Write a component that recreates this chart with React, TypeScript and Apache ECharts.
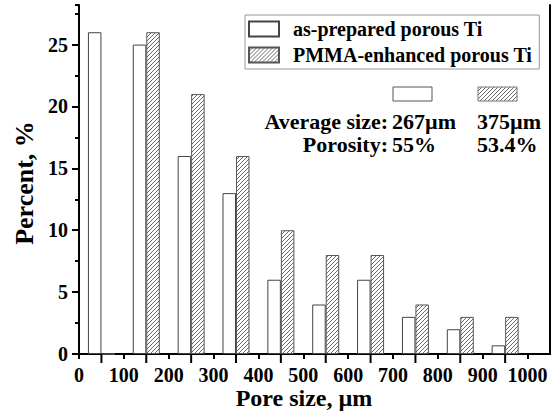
import React, { useEffect, useRef } from "react";
import * as echarts from "echarts";

// ---- data ----
const binCenters = [50, 150, 250, 350, 450, 550, 650, 750, 850, 950];
const asPrepared = [26, 25, 16, 13, 6, 4, 6, 3, 2, 0.7];
const pmmaEnhanced = [0, 26, 21, 16, 10, 8, 8, 4, 3, 3];
const seriesNames = ["as-prepared porous Ti", "PMMA-enhanced porous Ti"];
const averageSize = ["267µm", "375µm"];
const porosity = ["55%", "53.4%"];
const xTitle = "Pore size, µm";
const yTitle = "Percent, %";

const FONT = "'Times New Roman', 'Liberation Serif', serif";

function makeHatch() {
  const s = 4;
  const c = document.createElement("canvas");
  c.width = s;
  c.height = s;
  const ctx = c.getContext("2d")!;
  ctx.fillStyle = "#ffffff";
  ctx.fillRect(0, 0, s, s);
  ctx.strokeStyle = "#6a6a6a";
  ctx.lineWidth = 1;
  ctx.beginPath();
  ctx.moveTo(0, s);
  ctx.lineTo(s, 0);
  ctx.moveTo(-1, 1);
  ctx.lineTo(1, -1);
  ctx.moveTo(s - 1, s + 1);
  ctx.lineTo(s + 1, s - 1);
  ctx.stroke();
  return { image: c, repeat: "repeat", imageWidth: s, imageHeight: s } as any;
}

export default function App() {
  const ref = useRef<HTMLDivElement>(null);
  useEffect(() => {
    document.body.style.margin = "0";
    const chart = echarts.init(ref.current!, null, { renderer: "svg" });
    const hatch = makeHatch();
    const labelStyle = { fontFamily: FONT, fontWeight: "bold", fontSize: 20, color: "#000" };
    const black = "#000";
    const annFont = `bold 22px ${FONT}`;
    const option: any = {
      animation: false,
      backgroundColor: "#fff",
      grid: { left: 79, top: 5, width: 471, height: 349 },
      legend: {
        data: seriesNames,
        orient: "vertical",
        left: 245,
        top: 15,
        itemWidth: 30,
        itemHeight: 15,
        itemGap: 6,
        padding: [4, 7, 4, 3],
        backgroundColor: "#fff",
        borderColor: "#999",
        borderWidth: 1,
        icon: "rect",
        textStyle: { ...labelStyle, padding: [0, 0, 0, 9] },
      },
      xAxis: [
        {
          type: "value",
          min: 0,
          max: 1050,
          interval: 100,
          position: "bottom",
          axisLine: { lineStyle: { color: black, width: 2 } },
          axisTick: { show: true, length: 5, lineStyle: { color: black, width: 2 } },
          axisLabel: {
            ...labelStyle,
            margin: 11,
            showMaxLabel: false,
            formatter: (v: number) => String(v),
          },
          splitLine: { show: false },
        },
        {
          type: "value",
          min: 0,
          max: 1050,
          position: "top",
          axisLine: { lineStyle: { color: black, width: 2 } },
          axisTick: { show: false },
          axisLabel: { show: false },
          splitLine: { show: false },
        },
      ],
      yAxis: [
        {
          type: "value",
          min: 0,
          max: 28.2,
          interval: 5,
          position: "left",
          axisLine: { show: true, lineStyle: { color: black, width: 2 } },
          axisTick: { show: true, length: 7, lineStyle: { color: black, width: 2 } },
          axisLabel: { ...labelStyle, margin: 11, showMaxLabel: false },
          splitLine: { show: false },
        },
        {
          type: "value",
          min: 0,
          max: 28.2,
          interval: 2.5,
          position: "left",
          axisLine: { show: false },
          axisTick: { show: true, length: 4, lineStyle: { color: black, width: 2 } },
          axisLabel: { show: false },
          splitLine: { show: false },
        },
        {
          type: "value",
          min: 0,
          max: 28.2,
          position: "right",
          axisLine: { show: true, lineStyle: { color: black, width: 2 } },
          axisTick: { show: false },
          axisLabel: { show: false },
          splitLine: { show: false },
        },
      ],
      series: [
        {
          name: seriesNames[0],
          type: "bar",
          xAxisIndex: 0,
          yAxisIndex: 0,
          barWidth: 13.5,
          barGap: 0,
          itemStyle: { color: "#fff", borderColor: "#444", borderWidth: 1 },
          data: binCenters.map((c, i) => [c, asPrepared[i]]),
        },
        {
          name: seriesNames[1],
          type: "bar",
          xAxisIndex: 0,
          yAxisIndex: 0,
          barWidth: 13.5,
          barGap: 0,
          itemStyle: { color: hatch, borderColor: "#555", borderWidth: 1 },
          data: binCenters.map((c, i) => [c, pmmaEnhanced[i]]),
        },
        {
          name: "binTicks",
          type: "custom",
          xAxisIndex: 0,
          yAxisIndex: 0,
          silent: true,
          clip: false,
          z: 5,
          data: binCenters.map((c) => [c, 0]),
          renderItem: (params: any, api: any) => {
            const p = api.coord([api.value(0), 0]);
            return {
              type: "line",
              shape: { x1: p[0], y1: p[1], x2: p[0], y2: p[1] + 9 },
              style: { stroke: black, lineWidth: 2 },
            };
          },
        },
      ],
      graphic: [
        {
          type: "text",
          x: 24,
          y: 183,
          rotation: Math.PI / 2,
          style: {
            text: yTitle,
            font: `bold 26px ${FONT}`,
            fill: black,
            align: "center",
            verticalAlign: "middle",
          },
        },
        {
          type: "text",
          x: 304,
          y: 398,
          style: {
            text: xTitle,
            font: `bold 24px ${FONT}`,
            fill: black,
            align: "center",
            verticalAlign: "middle",
          },
        },
        {
          type: "rect",
          x: 393,
          y: 87,
          shape: { x: 0, y: 0, width: 39, height: 14 },
          style: { fill: "#fff", stroke: "#555", lineWidth: 1 },
        },
        {
          type: "rect",
          x: 478,
          y: 87,
          shape: { x: 0, y: 0, width: 39, height: 14 },
          style: { fill: hatch, stroke: "#777", lineWidth: 1 },
        },
        {
          type: "text",
          x: 388,
          y: 121,
          style: { text: "Average size:", font: annFont, fill: black, align: "right", verticalAlign: "middle" },
        },
        {
          type: "text",
          x: 392,
          y: 121,
          style: { text: averageSize[0], font: annFont, fill: black, align: "left", verticalAlign: "middle" },
        },
        {
          type: "text",
          x: 477,
          y: 121,
          style: { text: averageSize[1], font: annFont, fill: black, align: "left", verticalAlign: "middle" },
        },
        {
          type: "text",
          x: 388,
          y: 144,
          style: { text: "Porosity:", font: annFont, fill: black, align: "right", verticalAlign: "middle" },
        },
        {
          type: "text",
          x: 392,
          y: 144,
          style: { text: porosity[0], font: annFont, fill: black, align: "left", verticalAlign: "middle" },
        },
        {
          type: "text",
          x: 477,
          y: 144,
          style: { text: porosity[1], font: annFont, fill: black, align: "left", verticalAlign: "middle" },
        },
      ],
    };
    chart.setOption(option);
    return () => chart.dispose();
  }, []);
  return (
    <div
      ref={ref}
      style={{ position: "fixed", left: 0, top: 0, width: 551, height: 419, background: "#fff" }}
    />
  );
}
